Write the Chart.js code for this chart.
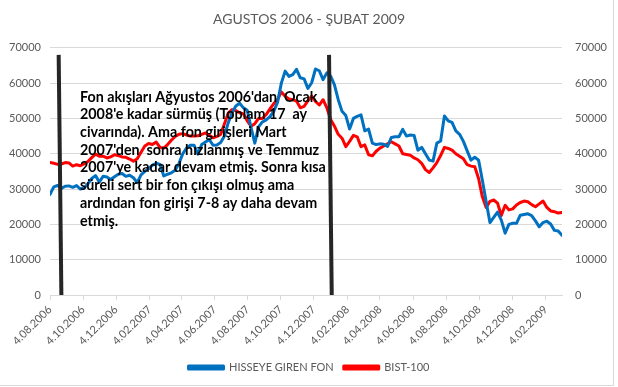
<!DOCTYPE html>
<html>
<head>
<meta charset="utf-8">
<script src="https://cdn.jsdelivr.net/npm/chart.js@4.4.0/dist/chart.umd.min.js"></script>
<style>
  body { margin: 0; background: #fff; }
  canvas { display: block; }
</style>
</head>
<body>
<canvas id="fonChart" width="618" height="387"></canvas>
<script>
// weekly observations starting 4.08.2006
const startDate = '4.08.2006';
const weekCount = 136;

const tickLabels = ['4.08.2006', '4.10.2006', '4.12.2006', '4.02.2007', '4.04.2007', '4.06.2007',
  '4.08.2007', '4.10.2007', '4.12.2007', '4.02.2008', '4.04.2008', '4.06.2008',
  '4.08.2008', '4.10.2008', '4.12.2008', '4.02.2009'];

const hisseyeGirenFon = [
  28500, 30600, 31000, 30200, 30800, 30900, 30500, 31000, 30000, 30300,
  31500, 33000, 33800, 32000, 33600, 33400, 32700, 33500, 34200, 34400,
  33600, 33900, 33200, 31800, 34000, 35000, 35800, 36800, 37300, 37000,
  33700, 34200, 34600, 35300, 37200, 40000, 41600, 42400, 42400, 39900,
  42600, 43300, 44000, 42400, 42500, 43200, 45000, 48800, 51600, 53500,
  54300, 53000, 52300, 47500, 43000, 47600, 49000, 49600, 50500, 52000,
  54600, 60000, 63400, 61900, 62400, 63900, 61500, 61200, 58500, 60100,
  64000, 63500, 61000, 62900, 62000, 59500, 55300, 52000, 50800, 47000,
  50000, 50600, 51000, 46500, 47000, 43000, 42600, 42800, 42700, 42100,
  44600, 44800, 44800, 46900, 45000, 45300, 45200, 41000, 41800, 40000,
  38200, 37900, 43000, 43600, 50700, 49300, 48900, 46500, 45500, 43500,
  40800, 38200, 39000, 38200, 32500, 26500, 20500, 22000, 23500, 21200,
  17500, 20000, 20300, 20300, 22600, 22800, 23000, 22500, 21000, 19300,
  20500, 20900, 20100, 18300, 18100, 16900
];

const bist100 = [
  37500, 37300, 37000, 37100, 37500, 37400, 36500, 36900, 36600, 37100,
  37800, 38900, 39900, 39300, 39300, 38800, 39100, 39700, 39500, 39100,
  39000, 38500, 37900, 38600, 40400, 42200, 42900, 42600, 43300, 41800,
  41600, 42600, 43800, 44900, 45500, 45700, 45300, 45000, 45000, 45100,
  45500, 45900, 45200, 44500, 44900, 45500, 48500, 51500, 52500, 52200,
  51600, 51300, 49300, 47800, 48500, 50000, 50000, 51100, 52700, 54200,
  55300, 57500, 56300, 55500, 55300, 54900, 53000, 53400, 55000, 56300,
  54800, 53800, 55300, 53000, 49700, 47800, 45500, 44400, 42000, 43500,
  45200, 44800, 42000, 42500, 39700, 39400, 40700, 41600, 42200, 42800,
  43400, 42800, 42200, 40000, 39800, 39600, 38800, 38300, 37300, 35500,
  34700, 36000, 37500, 39500, 41800, 41500, 41000, 40000, 39300, 38600,
  36900, 36500, 36300, 33000, 27800, 24800, 26500, 26900, 26000, 22500,
  25400, 24100, 24400, 25500, 26200, 26600, 26400, 25600, 25000, 25800,
  26600, 24800, 23800, 23600, 23200, 23400
];

// hand-drawn black marker lines: [top date, bottom date], top value
const markerLines = [['20.08.2006', '25.08.2006'], ['1.01.2008', '6.01.2008']];
const markerTop = 68000;

const noteLines = [
  "Fon akışları Ağyustos 2006'dan  Ocak",
  "2008'e kadar sürmüş (Toplam 17  ay",
  "civarında). Ama fon girişleri Mart",
  "2007'den  sonra hızlanmış ve Temmuz",
  "2007'ye kadar devam etmiş. Sonra kısa",
  "süreli sert bir fon çıkışı olmuş ama",
  "ardından fon girişi 7-8 ay daha devam",
  "etmiş."
];

function parseDate(s) {
  const [d, m, y] = s.split('.').map(Number);
  return Date.UTC(y, m - 1, d);
}
function dayOffset(s) {
  return Math.round((parseDate(s) - parseDate(startDate)) / 86400000);
}

const weekDays = Array.from({ length: weekCount }, (_, i) => i * 7);
const tickDays = tickLabels.map(dayOffset);

const gray = '#595959';
const gridColor = '#d9d9d9';
const font = 'Lato';

const extrasPlugin = {
  id: 'extras',
  beforeDraw(chart) {
    const ctx = chart.ctx;
    ctx.save();
    ctx.fillStyle = '#fff';
    ctx.fillRect(0, 0, chart.width, chart.height);
    ctx.strokeStyle = gridColor;
    ctx.lineWidth = 1;
    ctx.beginPath();
    ctx.moveTo(613.5, 0);
    ctx.lineTo(613.5, 385.5);
    ctx.lineTo(0, 385.5);
    ctx.stroke();
    ctx.restore();
  },
  afterDatasetsDraw(chart) {
    const ctx = chart.ctx;
    const x = chart.scales.x;
    const y = chart.scales.y;
    ctx.save();
    ctx.strokeStyle = '#262626';
    ctx.lineWidth = 4;
    markerLines.forEach(([top, bottom]) => {
      ctx.beginPath();
      ctx.moveTo(x.getPixelForValue(dayOffset(top)), y.getPixelForValue(markerTop));
      ctx.lineTo(x.getPixelForValue(dayOffset(bottom)), y.getPixelForValue(0));
      ctx.stroke();
    });
    ctx.fillStyle = '#000';
    ctx.font = 'bold 14.3px ' + font;
    ctx.textBaseline = 'middle';
    const left = chart.chartArea.left + 30;
    noteLines.forEach((line, i) => {
      ctx.fillText(line, left, 97 + i * 17.7);
    });
    ctx.restore();
  }
};

const ctx = document.getElementById('fonChart').getContext('2d');
new Chart(ctx, {
  type: 'line',
  data: {
    datasets: [{
      label: 'HISSEYE GIREN FON',
      data: hisseyeGirenFon.map((v, i) => ({ x: weekDays[i], y: v })),
      borderColor: '#0070c0',
      backgroundColor: '#0070c0',
      borderWidth: 3,
      yAxisID: 'y'
    }, {
      label: 'BIST-100',
      data: bist100.map((v, i) => ({ x: weekDays[i], y: v })),
      borderColor: '#ff0000',
      backgroundColor: '#ff0000',
      borderWidth: 3,
      yAxisID: 'y2'
    }]
  },
  options: {
    responsive: false,
    animation: false,
    devicePixelRatio: 1,
    elements: {
      point: { radius: 0 },
      line: { tension: 0, borderJoinStyle: 'round', borderCapStyle: 'round' }
    },
    layout: { padding: { left: 0, right: 0, top: 0, bottom: 4 } },
    plugins: {
      title: {
        display: true,
        text: 'AGUSTOS 2006 - ŞUBAT 2009',
        color: gray,
        font: { family: font, size: 14, weight: 'normal' },
        padding: { top: 11, bottom: 20 }
      },
      legend: {
        position: 'bottom',
        labels: {
          color: gray,
          font: { family: font, size: 11 },
          boxWidth: 35,
          boxHeight: 3,
          padding: 10
        }
      },
      tooltip: { enabled: false }
    },
    scales: {
      x: {
        type: 'linear',
        min: 0,
        max: weekDays[weekDays.length - 1],
        afterBuildTicks: scale => { scale.ticks = tickDays.map(v => ({ value: v })); },
        afterFit: scale => { scale.height = 57; },
        ticks: {
          color: gray,
          font: { family: font, size: 11 },
          minRotation: 45,
          maxRotation: 45,
          autoSkip: false,
          callback: (value, index) => tickLabels[index]
        },
        grid: { drawOnChartArea: false, drawTicks: true, tickLength: 5, color: gridColor },
        border: { display: true, color: gridColor }
      },
      y: {
        position: 'left',
        min: 0,
        max: 70000,
        afterFit: scale => { scale.width = 50; },
        ticks: { stepSize: 10000, color: gray, font: { family: font, size: 11 }, padding: 9, callback: v => String(v) },
        grid: { color: gridColor, drawTicks: false },
        border: { display: false }
      },
      y2: {
        position: 'right',
        min: 0,
        max: 70000,
        afterFit: scale => { scale.width = 56; },
        ticks: { stepSize: 10000, color: gray, font: { family: font, size: 11 }, padding: 13, callback: v => String(v) },
        grid: { drawOnChartArea: false, drawTicks: false },
        border: { display: false }
      }
    }
  },
  plugins: [extrasPlugin]
});
</script>
</body>
</html>
